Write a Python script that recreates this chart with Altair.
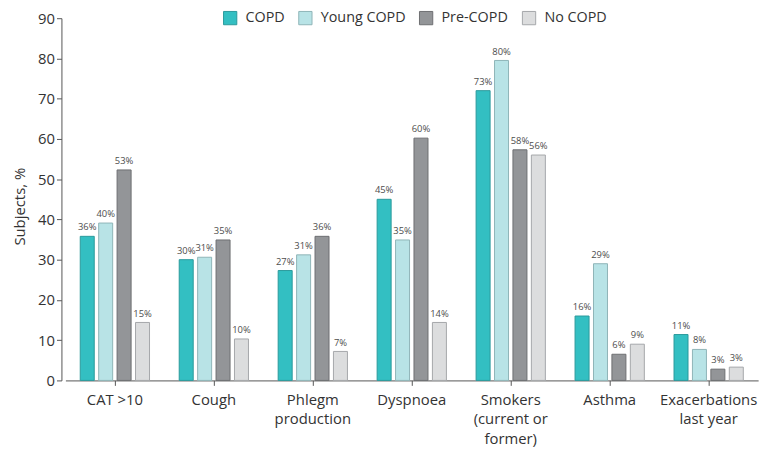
import altair as alt
import pandas as pd

categories = ["CAT >10", "Cough", "Phlegm|production", "Dyspnoea",
              "Smokers|(current or|former)", "Asthma", "Exacerbations|last year"]
groups = ["COPD", "Young COPD", "Pre-COPD", "No COPD"]

copd = [35.8, 30.0, 27.3, 45.0, 72.0, 16.0, 11.4]
young = [39.1, 30.6, 31.2, 34.9, 79.5, 29.0, 7.7]
pre = [52.3, 34.9, 35.8, 60.2, 57.3, 6.5, 2.8]
nocopd = [14.4, 10.3, 7.2, 14.4, 56.0, 9.0, 3.3]

copd_lbl = [36, 30, 27, 45, 73, 16, 11]
young_lbl = [40, 31, 31, 35, 80, 29, 8]
pre_lbl = [53, 35, 36, 60, 58, 6, 3]
no_lbl = [15, 10, 7, 14, 56, 9, 3]

fills = ["#33bfc2", "#b8e3e6", "#939598", "#dcddde"]
strokes = ["#2a9a9c", "#8fb4b7", "#6d6e71", "#a5a7aa"]

rows = []
for g, vals, lbls in zip(groups, [copd, young, pre, nocopd],
                         [copd_lbl, young_lbl, pre_lbl, no_lbl]):
    for c, v, l in zip(categories, vals, lbls):
        rows.append({"category": c, "group": g, "value": v, "label": f"{l}%"})
df = pd.DataFrame(rows)

FONT = "Open Sans"
TXT = "#333333"

x = alt.X("category:N", sort=categories, title=None,
          scale=alt.Scale(range=[4, 704], paddingInner=0.3, paddingOuter=0.15),
          axis=alt.Axis(labelExpr="split(datum.label, '|')", labelAngle=0,
                        labelFontSize=15, labelColor=TXT, labelFont=FONT,
                        labelLineHeight=20, labelPadding=7,
                        tickSize=5, tickColor="#555555", domainColor="#555555",
                        labelBaseline="top"))
xo = alt.XOffset("group:N", sort=groups,
                 scale=alt.Scale(paddingInner=0.24, paddingOuter=0))

bars = alt.Chart(df).mark_bar(strokeWidth=1).encode(
    x=x,
    xOffset=xo,
    y=alt.Y("value:Q", scale=alt.Scale(domain=[0, 90], nice=False),
            title="Subjects, %",
            axis=alt.Axis(values=list(range(0, 91, 10)), grid=False,
                          labelFontSize=15, labelColor=TXT, labelFont=FONT,
                          tickSize=5, tickColor="#555555", domainColor="#555555",
                          labelPadding=2,
                          titleFontSize=15, titleFont=FONT, titleFontWeight="normal",
                          titleColor=TXT, titleX=-37, titleY=190, titleAlign="center",
                          titleBaseline="alphabetic")),
    fill=alt.Fill("group:N", sort=groups,
                  scale=alt.Scale(domain=groups, range=fills),
                  legend=alt.Legend(title=None, orient="none", legendX=163, legendY=-8,
                                    direction="horizontal", columns=4,
                                    symbolType="square", symbolSize=180,
                                    symbolStrokeWidth=1, symbolOpacity=1,
                                    labelFontSize=14.5, labelFont=FONT, labelColor=TXT,
                                    labelOffset=8, columnPadding=11)),
    stroke=alt.Stroke("group:N", sort=groups,
                      scale=alt.Scale(domain=groups, range=strokes), legend=None),
)

text = alt.Chart(df).mark_text(dy=-6, fontSize=9.5, font=FONT, color="#4d4d4d",
                               baseline="alphabetic").encode(
    x=x, xOffset=xo, y="value:Q", text="label:N")

chart = (bars + text).properties(
    width=718, height=366,
    autosize=alt.AutoSizeParams(type="none"),
    padding={"left": 54, "top": 8, "right": 0, "bottom": 68},
).configure_view(stroke=None)

chart.save("out.html", embed_options={"renderer": "svg", "actions": False})
